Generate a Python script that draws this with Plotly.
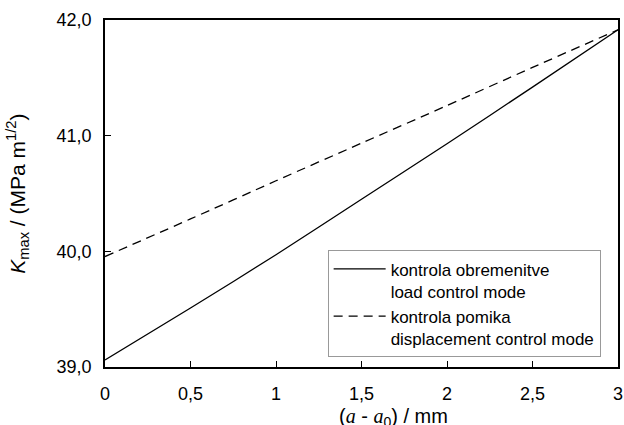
import plotly.graph_objects as go

x_vals = [0, 0.5, 1.0, 1.5, 2.0, 2.5, 3.0]
k_load = [39.06, 39.51, 39.97, 40.45, 40.93, 41.42, 41.915]
k_disp = [39.955, 40.28, 40.61, 40.935, 41.26, 41.59, 41.915]
x_ticks = [0, 0.5, 1, 1.5, 2, 2.5, 3]
y_ticks = [39, 40, 41, 42]

font_fam = "Liberation Sans, Arial, sans-serif"
serif = "Liberation Serif, Times New Roman, serif"

fig = go.Figure()
fig.add_trace(go.Scatter(
    x=x_vals, y=k_load, mode="lines",
    name="kontrola obremenitve<br>load control mode",
    line=dict(color="black", width=1.3, shape="spline", smoothing=0.8)))
fig.add_trace(go.Scatter(
    x=x_vals, y=k_disp, mode="lines",
    name="kontrola pomika<br>displacement control mode",
    line=dict(color="black", width=1.3, dash="9px,6px", shape="spline", smoothing=0.8)))

fig.update_layout(
    width=624, height=425,
    margin=dict(l=105, r=6, t=20, b=58),
    paper_bgcolor="white", plot_bgcolor="white",
    separators=", ",
    font=dict(family=font_fam, size=18, color="black"),
    showlegend=True,
    legend=dict(
        x=0.434, y=0.336, xanchor="left", yanchor="top",
        bgcolor="white", bordercolor="#999999", borderwidth=1,
        font=dict(size=17), tracegroupgap=0, itemwidth=52, valign="top",
    ),
    annotations=[
        dict(text="<i>K</i><sub>max</sub> / (MPa m<sup>1/2</sup>)",
             xref="paper", yref="paper", x=-0.171, y=0.5,
             xanchor="center", yanchor="middle", textangle=-90,
             showarrow=False, font=dict(size=21)),
        dict(text="(<i><span style=\"font-family:" + serif + "\">a</span></i> - "
                  "<i><span style=\"font-family:" + serif + "\">a</span></i><sub>0</sub>) / mm",
             xref="paper", yref="paper", x=0.563, y=-0.145,
             xanchor="center", yanchor="middle",
             showarrow=False, font=dict(size=20)),
    ],
)
fig.update_xaxes(
    range=[0, 3], tickvals=x_ticks, automargin=False,
    ticks="inside", ticklen=6, tickcolor="black", tickwidth=1,
    showline=True, linecolor="black", linewidth=1.5, mirror=True,
    showgrid=False, zeroline=False, ticklabelstandoff=10,
    tickfont=dict(size=18),
)
fig.update_yaxes(
    range=[39, 42], tickvals=y_ticks, tickformat=".1f", automargin=False,
    ticks="inside", ticklen=6, tickcolor="black", tickwidth=1,
    showline=True, linecolor="black", linewidth=1.5, mirror=True,
    showgrid=False, zeroline=False, ticklabelstandoff=8,
    tickfont=dict(size=18),
)

fig.write_html(
    "out.html",
    config={"displayModeBar": False},
    post_script="document.body.style.margin='0';document.body.style.overflow='hidden';",
)
